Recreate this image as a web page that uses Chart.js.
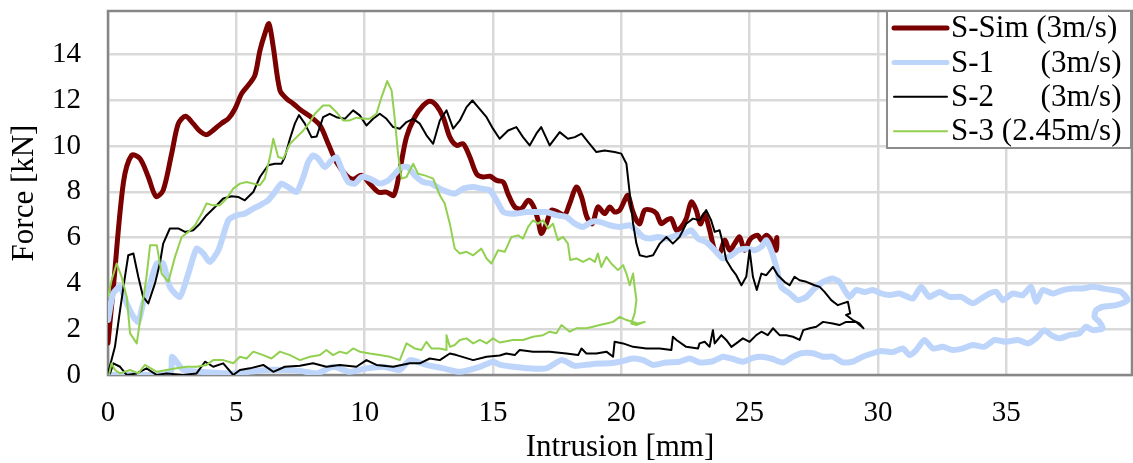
<!DOCTYPE html>
<html>
<head>
<meta charset="utf-8">
<script src="https://cdn.jsdelivr.net/npm/chart.js@4.4.1/dist/chart.umd.min.js"></script>
<style>
  html, body { margin: 0; padding: 0; background: #fff; }
  #wrap { width: 1133px; height: 463px; }
</style>
</head>
<body>
<div id="wrap"><canvas id="forceChart" width="1133" height="463"></canvas></div>
<script>
// force-intrusion curves (x in mm, y in kN)
var simX = [0, 0.21, 0.6, 0.92, 1.25, 1.57, 1.87, 2.15, 2.48, 2.74,
    3.02, 3.32, 3.58, 3.84, 4.17, 4.43, 4.69, 4.95, 5.2, 5.46,
    5.72, 5.92, 6.11, 6.27, 6.44, 6.7, 6.96, 7.22, 7.48, 7.87,
    8.26, 8.58, 8.9, 9.3, 9.55, 9.88, 10.2, 10.53, 10.85, 11.14,
    11.37, 11.63, 11.95, 12.28, 12.54, 12.8, 13.06, 13.32, 13.58, 13.84,
    14.1, 14.36, 14.61, 14.88, 15.14, 15.4, 15.59, 15.85, 16.11, 16.37,
    16.56, 16.76, 16.88, 17.08, 17.28, 17.53, 17.79, 17.99, 18.25, 18.45,
    18.66, 18.87, 19.09, 19.35, 19.55, 19.74, 19.94, 20.13, 20.26, 20.43,
    20.59, 20.72, 20.91, 21.17, 21.37, 21.56, 21.76, 21.95, 22.15, 22.34,
    22.53, 22.73, 22.92, 23.08, 23.25, 23.44, 23.64, 23.83, 24.03, 24.22,
    24.42, 24.61, 24.8, 25.0, 25.13, 25.32, 25.46, 25.65, 25.84, 26.04,
    26.06, 26.02];
var simY = [1.4, 3.85, 8.4, 9.6, 9.45, 8.65, 7.8, 8.07, 9.67, 10.98,
    11.3, 10.98, 10.65, 10.5, 10.76, 11.0, 11.2, 11.63, 12.28, 12.65,
    13.08, 14.17, 14.9, 15.34, 14.32, 12.43, 12.07, 11.85, 11.6, 11.3,
    10.9, 10.1, 9.3, 8.7, 8.55, 8.72, 8.36, 7.99, 7.99, 7.85,
    8.94, 10.39, 11.26, 11.77, 11.96, 11.77, 11.26, 10.39, 10.03, 10.1,
    9.52, 8.79, 8.65, 8.68, 8.5, 8.43, 7.9, 7.34, 7.27, 7.63,
    7.41, 6.76, 6.18, 6.61, 7.2, 7.12, 6.98, 7.49, 8.21, 7.78,
    6.9, 6.61, 7.34, 7.05, 7.34, 7.12, 7.2, 7.63, 7.85, 7.2,
    6.76, 6.61, 7.2, 7.2, 7.05, 6.61, 6.76, 6.83, 6.32, 6.47,
    6.83, 7.56, 7.2, 6.6, 7.0, 6.35, 5.45, 5.31, 5.89, 5.45,
    5.74, 6.03, 5.45, 5.89, 6.03, 6.1, 5.89, 6.1, 5.89, 5.45,
    6.0, 5.6];

var s1X = [0, 0.2, 0.47, 0.73, 0.99, 1.18, 1.37, 1.64, 1.9, 2.15,
    2.41, 2.8, 3.13, 3.45, 3.71, 3.97, 4.3, 4.69, 5.01, 5.33,
    5.66, 5.92, 6.24, 6.5, 6.76, 7.02, 7.35, 7.61, 7.8, 7.99,
    8.19, 8.45, 8.71, 8.9, 9.1, 9.36, 9.62, 9.88, 10.2, 10.59,
    10.92, 11.18, 11.44, 11.69, 11.95, 12.28, 12.6, 12.93, 13.25, 13.51,
    13.84, 14.23, 14.55, 14.88, 15.14, 15.4, 15.65, 15.91, 16.3, 16.69,
    17.08, 17.47, 17.86, 18.19, 18.51, 18.84, 19.16, 19.55, 19.94, 20.33,
    20.59, 20.85, 21.11, 21.43, 21.76, 22.15, 22.47, 22.73, 22.99, 23.31,
    23.64, 23.96, 24.29, 24.55, 24.87, 25.19, 25.46, 25.65, 25.84, 26.04,
    26.23, 26.56, 26.88, 27.21, 27.53, 27.86, 28.24, 28.5, 28.7, 28.89,
    29.15, 29.48, 29.8, 30.13, 30.45, 30.84, 31.36, 31.68, 32.0, 32.4,
    32.79, 33.24, 33.7, 34.02, 34.35, 34.61, 34.87, 35.25, 35.64, 35.97,
    36.16, 36.42, 36.81, 37.2, 37.59, 37.98, 38.37, 38.76, 39.15, 39.48,
    39.73, 39.28, 38.76, 38.5, 38.44, 38.63, 38.76, 38.37, 38.11, 37.85,
    37.46, 37.07, 36.75, 36.49, 36.16, 35.84, 35.45, 35.0, 34.54, 34.15,
    33.7, 33.31, 32.92, 32.53, 32.14, 31.81, 31.49, 31.23, 30.97, 30.58,
    30.13, 29.8, 29.41, 29.02, 28.63, 28.24, 27.86, 27.47, 27.01, 26.69,
    26.3, 25.84, 25.46, 25.13, 24.74, 24.35, 23.96, 23.57, 23.05, 22.66,
    22.27, 21.76, 21.24, 20.85, 20.46, 19.94, 19.55, 19.16, 18.64, 18.19,
    17.67, 17.08, 16.43, 15.78, 15.26, 15.0, 14.49, 13.71, 13.06, 12.41,
    11.76, 11.37, 10.72, 10.07, 9.42, 8.77, 8.13, 7.48, 6.18, 4.88,
    3.58, 2.93, 2.5, 2.44, 1.64, 0.7, 0];
var s1Y = [2.4, 3.56, 3.85, 3.13, 2.54, 2.32, 3.13, 4.0, 4.87, 4.87,
    3.85, 3.41, 4.43, 5.52, 5.31, 4.94, 5.45, 6.76, 6.98, 7.05,
    7.27, 7.41, 7.63, 7.99, 8.36, 8.21, 7.99, 8.65, 9.3, 9.59,
    9.45, 9.08, 9.38, 9.52, 9.01, 8.43, 8.36, 8.65, 8.58, 8.36,
    8.5, 8.79, 9.08, 9.08, 8.72, 8.43, 8.36, 8.14, 7.99, 7.92,
    8.14, 8.21, 8.14, 8.07, 7.63, 7.12, 7.05, 7.05, 7.12, 7.12,
    7.12, 6.98, 6.9, 6.61, 6.47, 6.69, 6.69, 6.54, 6.47, 6.54,
    6.32, 6.03, 5.96, 6.03, 5.96, 6.1, 6.18, 6.32, 5.96, 5.81,
    5.45, 5.09, 5.23, 5.45, 5.52, 5.45, 5.6, 5.89, 5.45, 4.72,
    3.85, 3.56, 3.27, 3.41, 3.78, 4.07, 4.21, 4.07, 3.71, 3.41,
    3.71, 3.63, 3.71, 3.56, 3.49, 3.56, 3.34, 3.85, 3.41, 3.63,
    3.41, 3.41, 3.13, 3.34, 3.56, 3.63, 3.27, 3.56, 3.49, 3.85,
    3.2, 3.71, 3.56, 3.71, 3.78, 3.78, 3.85, 3.78, 3.71, 3.63,
    3.27, 3.05, 2.98, 2.83, 2.54, 2.32, 2.04, 1.96, 2.11, 1.82,
    1.74, 1.6, 1.74, 1.96, 1.6, 1.38, 1.53, 1.45, 1.53, 1.23,
    1.31, 1.16, 1.09, 1.23, 1.16, 1.53, 1.09, 0.87, 1.16, 1.0,
    1.05, 0.95, 0.8, 0.58, 0.55, 0.8, 0.8, 0.95, 0.95, 0.8,
    0.55, 0.72, 0.8, 0.75, 0.58, 0.7, 0.8, 0.6, 0.55, 0.72,
    0.58, 0.55, 0.44, 0.65, 0.72, 0.58, 0.51, 0.5, 0.45, 0.4,
    0.65, 0.29, 0.29, 0.36, 0.45, 0.58, 0.36, 0.14, 0.29, 0.44,
    0.65, 0.22, 0.36, 0.29, 0.14, 0.36, 0.07, 0.18, 0.22, 0.07,
    0.14, 0.22, 0.8, 0.1, 0, 0, 0];

var s2X = [0, 0.27, 0.47, 0.66, 0.79, 0.99, 1.18, 1.37, 1.57, 1.83,
    2.02, 2.15, 2.41, 2.74, 3.0, 3.32, 3.58, 3.84, 4.17, 4.49,
    4.82, 5.07, 5.33, 5.66, 5.92, 6.24, 6.5, 6.76, 6.89, 7.09,
    7.28, 7.44, 7.67, 7.93, 8.13, 8.38, 8.64, 8.9, 9.23, 9.55,
    9.81, 10.07, 10.33, 10.59, 10.85, 11.11, 11.37, 11.63, 11.89, 12.15,
    12.41, 12.67, 12.93, 13.19, 13.45, 13.71, 13.97, 14.2, 14.42, 14.75,
    15.0, 15.26, 15.59, 15.91, 16.17, 16.43, 16.69, 16.88, 17.21, 17.6,
    17.92, 18.19, 18.45, 18.71, 19.03, 19.35, 19.74, 20.0, 20.2, 20.33,
    20.46, 20.59, 20.72, 20.98, 21.24, 21.5, 21.76, 22.01, 22.27, 22.53,
    22.79, 23.05, 23.31, 23.5, 23.64, 23.83, 23.96, 24.09, 24.29, 24.48,
    24.68, 24.87, 25.0, 25.13, 25.28, 25.46, 25.65, 25.91, 26.1, 26.36,
    26.56, 26.75, 26.95, 27.21, 27.53, 27.73, 27.92, 28.18, 28.44, 28.63,
    28.83, 28.92, 28.76, 29.02, 29.28, 29.44, 29.15, 28.76, 28.5, 28.24,
    27.86, 27.6, 27.34, 27.09, 26.95, 26.69, 26.43, 26.17, 25.91, 25.71,
    25.46, 25.26, 25.0, 24.74, 24.48, 24.29, 24.09, 23.9, 23.64, 23.57,
    23.44, 23.25, 23.05, 22.99, 22.53, 22.15, 22.01, 21.95, 21.5, 20.98,
    20.46, 20.07, 19.74, 19.68, 19.42, 19.03, 18.64, 18.45, 18.32, 17.86,
    17.21, 16.56, 16.04, 15.85, 15.52, 15.26, 14.75, 14.23, 13.58, 13.32,
    12.93, 12.54, 12.15, 11.76, 11.11, 10.46, 10.07, 9.68, 9.03, 8.51,
    7.99, 7.48, 6.89, 6.44, 6.05, 5.53, 5.14, 4.88, 4.49, 4.1,
    3.78, 3.45, 2.93, 2.28, 1.9, 1.5, 1.12, 0.73, 0.47, 0.21, 0.08];
var s2Y = [0.07, 1.23, 2.83, 4.29, 5.23, 5.31, 4.29, 3.41, 3.13, 4.0,
    4.87, 5.74, 6.4, 6.4, 6.25, 6.32, 6.61, 6.98, 7.34, 7.71,
    7.81, 7.78, 7.63, 7.99, 8.65, 9.16, 9.23, 9.23, 9.52, 10.32,
    10.98, 11.35, 10.98, 10.39, 10.42, 11.26, 11.41, 11.26, 11.19, 11.56,
    11.34, 10.9, 11.19, 11.41, 11.19, 10.83, 10.76, 11.05, 11.19, 10.98,
    10.47, 10.1, 11.12, 11.56, 10.76, 11.12, 11.7, 11.99, 11.7, 11.26,
    10.76, 10.32, 10.68, 10.83, 10.39, 10.03, 10.54, 10.83, 10.03, 10.61,
    10.32, 10.39, 10.54, 10.17, 9.74, 9.81, 9.74, 9.67, 9.23, 7.92,
    6.61, 5.74, 5.23, 5.16, 5.23, 5.74, 6.03, 5.74, 6.03, 6.61,
    6.83, 6.76, 7.2, 6.76, 6.25, 6.32, 5.74, 5.02, 4.65, 4.36,
    3.92, 4.29, 5.45, 4.29, 3.71, 4.43, 4.36, 4.72, 4.36, 4.07,
    3.92, 4.29, 4.14, 4.07, 3.92, 3.85, 3.63, 3.27, 3.05, 3.13,
    3.2, 2.69, 2.62, 2.4, 2.25, 2.04, 2.32, 2.32, 2.18, 2.25,
    2.32, 2.11, 2.04, 1.96, 1.53, 1.67, 1.74, 1.74, 2.04, 1.74,
    1.89, 1.74, 1.45, 1.6, 1.38, 1.23, 1.53, 1.74, 1.38, 1.96,
    1.23, 1.45, 1.38, 1.16, 1.23, 1.53, 1.67, 1.09, 1.16, 1.16,
    1.23, 1.38, 1.45, 0.8, 1.02, 0.94, 0.94, 1.16, 0.87, 0.94,
    1.02, 1.02, 1.09, 0.87, 0.94, 0.85, 0.8, 0.65, 0.87, 0.94,
    0.65, 0.72, 0.51, 0.51, 0.36, 0.44, 0.65, 0.36, 0.44, 0.36,
    0.51, 0.4, 0.36, 0.14, 0.44, 0.29, 0.22, 0, 0.51, 0.36,
    0.58, 0.07, 0, 0.07, 0, 0.29, 0.07, 0, 0.36, 0.51, 0.07];

var s3X = [0, 0.14, 0.34, 0.53, 0.73, 0.86, 1.12, 1.31, 1.5, 1.64,
    1.9, 2.09, 2.35, 2.61, 2.87, 3.13, 3.39, 3.65, 3.84, 4.1,
    4.36, 4.62, 4.88, 5.14, 5.4, 5.66, 5.92, 6.11, 6.31, 6.44,
    6.63, 6.83, 7.09, 7.35, 7.61, 7.87, 8.06, 8.38, 8.64, 8.9,
    9.16, 9.42, 9.68, 9.94, 10.2, 10.46, 10.66, 10.88, 11.05, 11.18,
    11.3, 11.44, 11.63, 11.89, 12.08, 12.34, 12.67, 12.93, 13.12, 13.32,
    13.51, 13.71, 13.97, 14.23, 14.55, 14.75, 14.94, 15.2, 15.46, 15.72,
    15.98, 16.17, 16.37, 16.56, 16.76, 16.95, 17.15, 17.34, 17.53, 17.73,
    17.92, 18.01, 18.25, 18.51, 18.77, 18.97, 19.09, 19.22, 19.42, 19.61,
    19.87, 20.07, 20.2, 20.33, 20.46, 20.52, 20.59, 20.52, 20.39, 20.59,
    20.91, 20.65, 20.2,
    19.94, 19.68, 19.42, 19.16, 18.9, 18.64, 18.25, 17.99, 17.67, 17.47,
    17.21, 16.95, 16.56, 16.17, 15.78, 15.26, 15.0, 14.75, 14.49, 14.23,
    13.97, 13.71, 13.51, 13.32, 13.19, 13.19, 12.93, 12.6, 12.41, 12.21,
    11.95, 11.63, 11.37, 10.98, 10.59, 10.2, 9.81, 9.55, 9.3, 9.03,
    8.77, 8.51, 8.26, 7.87, 7.48, 7.09, 6.7, 6.37, 6.05, 5.66,
    5.4, 5.14, 4.88, 4.49, 4.1, 3.84, 3.45, 3.06, 2.67, 2.28,
    1.9, 1.44, 1.18, 0.86, 0.47, 0.27, 0.14, 0.05];
var s3Y = [3.41, 4.14, 4.87, 4.29, 3.41, 1.82, 1.38, 2.83, 4.29, 5.67,
    5.67, 4.43, 4.07, 5.16, 6.03, 6.25, 6.54, 7.05, 7.49, 7.41,
    7.41, 7.71, 8.14, 8.36, 8.43, 8.36, 8.29, 8.58, 9.52, 10.32,
    9.52, 9.45, 10.1, 10.39, 10.68, 11.05, 11.41, 11.77, 11.77, 11.48,
    11.12, 11.12, 11.24, 11.19, 11.19, 11.41, 12.14, 12.84, 12.43, 11.12,
    9.67, 8.58, 8.65, 9.23, 8.79, 8.72, 8.58, 7.85, 7.49, 6.61,
    5.52, 5.31, 5.38, 5.23, 5.52, 5.09, 4.87, 5.45, 5.38, 6.03,
    6.1, 5.96, 6.47, 6.76, 6.61, 6.76, 6.4, 6.61, 5.89, 6.03,
    5.74, 5.02, 5.09, 4.94, 5.09, 4.94, 5.31, 4.72, 5.16, 4.87,
    4.58, 4.8, 4.43, 3.92, 4.43, 3.85, 3.27, 2.69, 2.25, 2.18,
    2.32, 2.25, 2.4,
    2.54, 2.32, 2.25, 2.18, 2.11, 2.04, 2.04, 1.89, 2.18, 1.82,
    1.89, 1.74, 1.67, 1.53, 1.53, 1.42, 1.6, 1.38, 1.53, 1.38,
    1.6, 1.53, 1.31, 1.23, 1.74, 1.09, 1.16, 1.16, 1.45, 1.09,
    1.16, 1.38, 0.65, 0.8, 0.87, 0.94, 1.02, 1.16, 0.94, 1.02,
    0.87, 1.09, 0.87, 0.8, 0.65, 0.87, 1.02, 0.72, 0.87, 1.02,
    0.72, 0.8, 0.51, 0.65, 0.65, 0.44, 0.36, 0.36, 0.29, 0.22,
    0.14, 0.44, 0.07, 0.22, 0.07, 0.22, 0.51, 0.07];

var seriesLabels = ['S-Sim (3m/s)', 'S-1      (3m/s)', 'S-2      (3m/s)', 'S-3 (2.45m/s)'];
var seriesColors = ['#7b0000', '#bdd5fb', '#000000', '#92d050'];
var xTicks = [0, 5, 10, 15, 20, 25, 30, 35];
var yTicks = [0, 2, 4, 6, 8, 10, 12, 14];

var serif = "'Liberation Serif', 'Times New Roman', serif";

function toPoints(xs, ys) {
    return xs.map(function (x, i) { return {x: x, y: ys[i]}; });
}

// gray frame round the plot area
const plotFrame = {
    id: 'plotFrame',
    beforeDatasetsDraw(chart) {
        const a = chart.chartArea, ctx = chart.ctx;
        ctx.save();
        ctx.strokeStyle = '#878787';
        ctx.lineWidth = 2.5;
        ctx.strokeRect(a.left, a.top, a.right - a.left, a.bottom - a.top);
        ctx.restore();
    }
};

// boxed legend in the top right corner, like the original
const boxLegend = {
    id: 'boxLegend',
    afterDraw(chart) {
        const a = chart.chartArea, ctx = chart.ctx;
        const w = 244, h = 137, rowH = 34.4;
        const x0 = a.right - w - 1, y0 = a.top;
        ctx.save();
        ctx.fillStyle = '#fff';
        ctx.fillRect(x0, y0, w, h);
        ctx.strokeStyle = '#8c8c8c';
        ctx.lineWidth = 2;
        ctx.strokeRect(x0, y0, w, h);
        ctx.font = '31px ' + serif;
        ctx.textBaseline = 'middle';
        ctx.textAlign = 'left';
        chart.data.datasets.forEach(function (ds, i) {
            const cy = y0 + 17 + i * rowH;
            ctx.strokeStyle = ds.borderColor;
            ctx.lineWidth = Math.min(ds.borderWidth, 5);
            ctx.lineCap = 'round';
            ctx.beginPath();
            ctx.moveTo(x0 + 7, cy);
            ctx.lineTo(x0 + 60, cy);
            ctx.stroke();
            ctx.fillStyle = '#000';
            ctx.fillText(ds.label, x0 + 64, cy + 1);
        });
        ctx.restore();
    }
};

const ctx = document.getElementById('forceChart').getContext('2d');
const forceChart = new Chart(ctx, {
    type: 'scatter',
    data: {
        datasets: [{
            label: seriesLabels[0], data: toPoints(simX, simY),
            borderColor: seriesColors[0], borderWidth: 5, tension: 0.3, order: 4
        }, {
            label: seriesLabels[1], data: toPoints(s1X, s1Y),
            borderColor: seriesColors[1], borderWidth: 6, tension: 0.2, order: 3
        }, {
            label: seriesLabels[2], data: toPoints(s2X, s2Y),
            borderColor: seriesColors[2], borderWidth: 2, tension: 0, order: 2
        }, {
            label: seriesLabels[3], data: toPoints(s3X, s3Y),
            borderColor: seriesColors[3], borderWidth: 2, tension: 0, order: 1
        }].map(function (ds) {
            return Object.assign(ds, {
                showLine: true, pointRadius: 0, pointHoverRadius: 0, fill: false,
                borderJoinStyle: 'round', borderCapStyle: 'round'
            });
        })
    },
    options: {
        responsive: false,
        animation: false,
        devicePixelRatio: 1,
        layout: {padding: {top: 11, right: 1, left: 0, bottom: 0}},
        plugins: {
            legend: {display: false},
            tooltip: {enabled: false}
        },
        scales: {
            x: {
                type: 'linear', min: 0, max: 39.9,
                afterBuildTicks: function (axis) {
                    axis.ticks = xTicks.map(function (v) { return {value: v}; });
                },
                afterFit: function (axis) {
                    axis.height = 88;
                    axis.paddingLeft = 0;
                    axis.paddingRight = 0;
                },
                grid: {color: '#d9d9d9', lineWidth: 2.5, drawTicks: false},
                border: {display: false},
                ticks: {color: '#000', padding: 21, font: {family: serif, size: 29}, maxRotation: 0},
                title: {
                    display: true, text: 'Intrusion [mm]', color: '#000',
                    font: {family: serif, size: 31, lineHeight: 1.0}, padding: {top: 0, bottom: 0}
                }
            },
            y: {
                type: 'linear', min: 0, max: 15.9,
                afterBuildTicks: function (axis) {
                    axis.ticks = yTicks.map(function (v) { return {value: v}; });
                },
                afterFit: function (axis) {
                    axis.width = 108;
                    axis.paddingTop = 0;
                    axis.paddingBottom = 0;
                },
                grid: {color: '#d9d9d9', lineWidth: 2.5, drawTicks: false},
                border: {display: false},
                ticks: {color: '#000', padding: 27, font: {family: serif, size: 29}},
                title: {
                    display: true, text: 'Force [kN]', color: '#000',
                    font: {family: serif, size: 31, lineHeight: 1.0}, padding: {top: 9, bottom: 0}
                }
            }
        }
    },
    plugins: [plotFrame, boxLegend]
});
</script>
</body>
</html>
